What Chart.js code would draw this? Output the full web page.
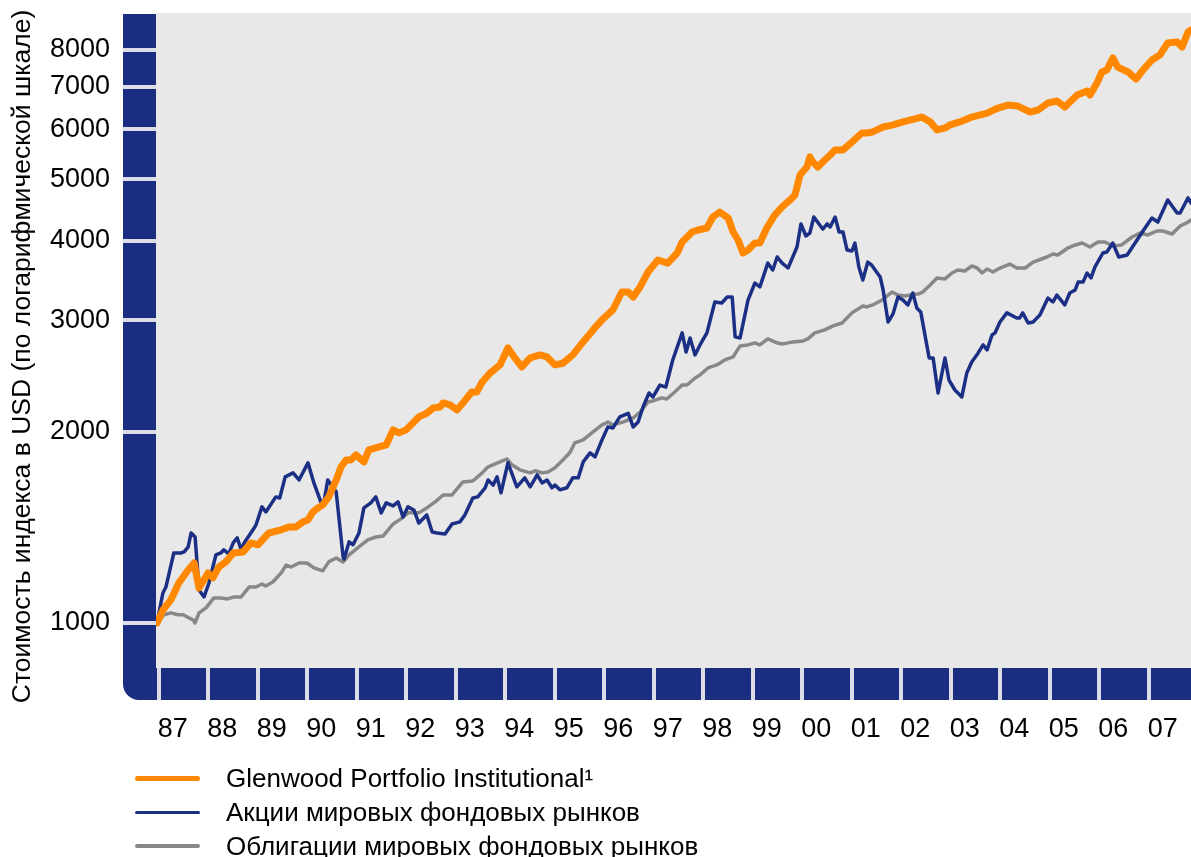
<!DOCTYPE html>
<html lang="ru">
<head>
<meta charset="utf-8">
<title>Glenwood Portfolio Institutional</title>
<script src="https://cdn.jsdelivr.net/npm/chart.js@4.4.1/dist/chart.umd.min.js"></script>
<style>
  html, body { margin: 0; padding: 0; background: #fff; }
  #wrap { position: relative; width: 1191px; height: 857px; overflow: hidden; font-family: "Liberation Sans", Arial, sans-serif; }
  #chart { position: absolute; left: 0; top: 0; }
  #legend { position: absolute; left: 135px; top: 761px; }
  .legend-row { display: flex; align-items: center; height: 34px; font-size: 26px; line-height: 30px; color: #000; white-space: nowrap; }
  .legend-line { width: 65px; margin-right: 26px; border-radius: 3px; }
</style>
</head>
<body>
<div id="wrap">
  <canvas id="chart" width="1191" height="857"></canvas>
  <div id="legend"></div>
</div>
<script>
// year labels under the axis
const firstYear = 1987;
const yearLabels = ['87', '88', '89', '90', '91', '92', '93', '94', '95', '96', '97',
                    '98', '99', '00', '01', '02', '03', '04', '05', '06', '07'];
const yTicks = [1000, 2000, 3000, 4000, 5000, 6000, 7000, 8000];

const seriesNames = ['Glenwood Portfolio Institutional\u00b9', 'Акции мировых фондовых рынков', 'Облигации мировых фондовых рынков'];
const seriesColors = ['#ff8800', '#1b2f85', '#888888'];

// Glenwood Portfolio Institutional
const glenwoodDates = [
  1987.00, 1987.12, 1987.28, 1987.44, 1987.63, 1987.75, 1987.85, 1987.95, 1988.03, 1988.13,
  1988.25, 1988.39, 1988.54, 1988.74, 1988.90, 1989.04, 1989.26, 1989.51, 1989.67, 1989.81,
  1989.95, 1990.05, 1990.15, 1990.25, 1990.35, 1990.47, 1990.62, 1990.72, 1990.82, 1990.92,
  1991.02, 1991.18, 1991.28, 1991.42, 1991.63, 1991.77, 1991.89, 1992.03, 1992.17, 1992.29,
  1992.45, 1992.58, 1992.72, 1992.78, 1992.92, 1993.06, 1993.18, 1993.36, 1993.46, 1993.57,
  1993.73, 1993.93, 1994.09, 1994.23, 1994.37, 1994.54, 1994.74, 1994.88, 1995.04, 1995.20,
  1995.40, 1995.61, 1995.81, 1995.99, 1996.21, 1996.39, 1996.52, 1996.62, 1996.76, 1996.92,
  1997.12, 1997.32, 1997.51, 1997.61, 1997.81, 1997.93, 1998.11, 1998.23, 1998.37, 1998.54,
  1998.64, 1998.74, 1998.84, 1998.94, 1999.08, 1999.18, 1999.32, 1999.48, 1999.63, 1999.79,
  1999.89, 1999.99, 2000.13, 2000.19, 2000.25, 2000.35, 2000.49, 2000.60, 2000.70, 2000.86,
  2001.04, 2001.24, 2001.34, 2001.46, 2001.67, 2001.87, 2002.07, 2002.21, 2002.45, 2002.62,
  2002.76, 2002.92, 2003.02, 2003.22, 2003.46, 2003.77, 2003.99, 2004.19, 2004.39, 2004.64,
  2004.80, 2005.00, 2005.18, 2005.34, 2005.59, 2005.79, 2005.85, 2005.99, 2006.09, 2006.19,
  2006.31, 2006.41, 2006.62, 2006.78, 2006.92, 2007.10, 2007.26, 2007.42, 2007.61, 2007.71,
  2007.83, 2007.89
];
const glenwoodValues = [
  1000, 1048, 1087, 1156, 1212, 1243, 1135, 1169, 1199, 1178,
  1225, 1248, 1289, 1294, 1337, 1328, 1386, 1402, 1417, 1417,
  1443, 1453, 1496, 1518, 1535, 1580, 1680, 1762, 1807, 1807,
  1840, 1794, 1874, 1888, 1908, 2015, 1993, 2015, 2066, 2112,
  2140, 2182, 2190, 2222, 2206, 2166, 2222, 2312, 2312, 2397,
  2477, 2551, 2713, 2616, 2532, 2616, 2645, 2626, 2551, 2566,
  2645, 2773, 2896, 3003, 3114, 3323, 3323, 3264, 3385, 3574,
  3733, 3691, 3829, 3985, 4132, 4162, 4193, 4363, 4443, 4347,
  4132, 4014, 3829, 3871, 3970, 3970, 4193, 4395, 4526, 4642,
  4727, 5082, 5232, 5426, 5326, 5232, 5366, 5465, 5565, 5565,
  5728, 5919, 5919, 5941, 6050, 6095, 6162, 6204, 6272, 6162,
  5984, 6028, 6095, 6162, 6272, 6363, 6480, 6550, 6527, 6387,
  6434, 6600, 6648, 6503, 6794, 6893, 6794, 7097, 7386, 7439,
  7771, 7519, 7386, 7200, 7439, 7714, 7856, 8205, 8235, 8088,
  8540, 8602
];

// Акции мировых фондовых рынков
const equityDates = [
  1987.00, 1987.12, 1987.18, 1987.34, 1987.48, 1987.55, 1987.63, 1987.69, 1987.77, 1987.85,
  1987.95, 1988.05, 1988.19, 1988.29, 1988.35, 1988.45, 1988.54, 1988.62, 1988.70, 1988.76,
  1988.94, 1989.00, 1989.12, 1989.20, 1989.40, 1989.48, 1989.59, 1989.75, 1989.87, 1990.05,
  1990.17, 1990.31, 1990.37, 1990.45, 1990.62, 1990.76, 1990.78, 1990.88, 1990.96, 1991.08,
  1991.18, 1991.32, 1991.42, 1991.53, 1991.63, 1991.77, 1991.87, 1991.97, 1992.07, 1992.19,
  1992.29, 1992.45, 1992.56, 1992.66, 1992.82, 1992.96, 1993.12, 1993.22, 1993.38, 1993.48,
  1993.63, 1993.69, 1993.79, 1993.87, 1993.95, 1994.09, 1994.27, 1994.43, 1994.54, 1994.68,
  1994.78, 1994.88, 1994.98, 1995.04, 1995.14, 1995.28, 1995.40, 1995.51, 1995.61, 1995.75,
  1995.85, 1995.99, 1996.11, 1996.21, 1996.35, 1996.52, 1996.62, 1996.72, 1996.82, 1996.94,
  1997.02, 1997.16, 1997.28, 1997.42, 1997.61, 1997.69, 1997.77, 1997.87, 1997.97, 1998.11,
  1998.27, 1998.41, 1998.52, 1998.62, 1998.68, 1998.78, 1998.94, 1999.08, 1999.18, 1999.34,
  1999.44, 1999.53, 1999.63, 1999.75, 1999.93, 2000.01, 2000.11, 2000.19, 2000.27, 2000.45,
  2000.54, 2000.60, 2000.70, 2000.78, 2000.86, 2000.94, 2001.04, 2001.10, 2001.18, 2001.26,
  2001.36, 2001.44, 2001.61, 2001.67, 2001.77, 2001.87, 2001.97, 2002.07, 2002.17, 2002.27,
  2002.35, 2002.43, 2002.60, 2002.68, 2002.78, 2002.92, 2003.00, 2003.12, 2003.26, 2003.36,
  2003.46, 2003.59, 2003.69, 2003.77, 2003.87, 2003.93, 2004.03, 2004.17, 2004.37, 2004.43,
  2004.49, 2004.60, 2004.70, 2004.84, 2005.00, 2005.10, 2005.18, 2005.34, 2005.44, 2005.55,
  2005.61, 2005.71, 2005.79, 2005.87, 2005.95, 2006.11, 2006.19, 2006.31, 2006.43, 2006.60,
  2006.80, 2006.92, 2007.10, 2007.22, 2007.42, 2007.61, 2007.67, 2007.83, 2007.89
];
const equityValues = [
  1000, 1115, 1139, 1289, 1289, 1294, 1318, 1386, 1366, 1127,
  1099, 1156, 1280, 1289, 1304, 1285, 1337, 1362, 1304, 1337,
  1402, 1427, 1524, 1496, 1580, 1574, 1699, 1724, 1680, 1788,
  1662, 1552, 1546, 1680, 1609, 1271, 1261, 1342, 1328, 1386,
  1518, 1546, 1580, 1491, 1546, 1529, 1552, 1469, 1524, 1507,
  1437, 1480, 1391, 1386, 1381, 1432, 1443, 1480, 1574, 1580,
  1633, 1680, 1649, 1699, 1603, 1788, 1639, 1693, 1639, 1711,
  1662, 1680, 1633, 1649, 1621, 1633, 1693, 1693, 1794, 1854,
  1827, 1943, 2037, 2029, 2112, 2140, 2037, 2073, 2190, 2304,
  2271, 2371, 2354, 2597, 2865, 2673, 2813, 2645, 2743, 2865,
  3205, 3194, 3264, 3264, 2824, 2813, 3228, 3434, 3385, 3691,
  3600, 3774, 3691, 3626, 3913, 4255, 4073, 4117, 4363, 4177,
  4255, 4208, 4363, 4132, 4132, 3871, 3857, 3970, 3640, 3472,
  3705, 3663, 3510, 3348, 2981, 3070, 3264, 3228, 3171, 3312,
  3137, 3092, 2616, 2616, 2304, 2616, 2415, 2329, 2271, 2477,
  2578, 2664, 2743, 2693, 2844, 2865, 2981, 3081, 3025, 3025,
  3081, 2970, 2981, 3059, 3252, 3205, 3287, 3171, 3312, 3348,
  3446, 3446, 3561, 3498, 3640, 3829, 3843, 3970, 3774, 3801,
  4014, 4147, 4347, 4284, 4642, 4427, 4427, 4676, 4590
];

// Облигации мировых фондовых рынков
const bondDates = [
  1987.00, 1987.14, 1987.28, 1987.42, 1987.53, 1987.65, 1987.73, 1987.77, 1987.85, 1987.99,
  1988.15, 1988.29, 1988.43, 1988.56, 1988.70, 1988.86, 1989.00, 1989.12, 1989.20, 1989.34,
  1989.51, 1989.61, 1989.71, 1989.87, 1990.03, 1990.17, 1990.35, 1990.47, 1990.62, 1990.76,
  1990.88, 1991.08, 1991.26, 1991.42, 1991.57, 1991.77, 1991.93, 1992.07, 1992.29, 1992.45,
  1992.62, 1992.78, 1992.96, 1993.18, 1993.38, 1993.57, 1993.69, 1993.93, 1994.07, 1994.17,
  1994.33, 1994.54, 1994.64, 1994.78, 1994.90, 1995.04, 1995.20, 1995.34, 1995.44, 1995.61,
  1995.81, 1995.99, 1996.11, 1996.21, 1996.41, 1996.62, 1996.76, 1996.92, 1997.02, 1997.20,
  1997.30, 1997.46, 1997.61, 1997.71, 1997.87, 1997.97, 1998.13, 1998.31, 1998.47, 1998.64,
  1998.78, 1998.94, 1999.08, 1999.18, 1999.34, 1999.53, 1999.65, 1999.85, 2000.05, 2000.15,
  2000.29, 2000.49, 2000.66, 2000.84, 2001.04, 2001.26, 2001.34, 2001.46, 2001.65, 2001.77,
  2001.85, 2001.97, 2002.11, 2002.21, 2002.37, 2002.47, 2002.62, 2002.76, 2002.92, 2003.06,
  2003.18, 2003.32, 2003.46, 2003.57, 2003.67, 2003.77, 2003.89, 2004.03, 2004.23, 2004.37,
  2004.54, 2004.70, 2004.98, 2005.10, 2005.20, 2005.40, 2005.55, 2005.69, 2005.85, 2006.01,
  2006.15, 2006.31, 2006.49, 2006.70, 2006.86, 2007.02, 2007.20, 2007.32, 2007.51, 2007.67,
  2007.83, 2007.89
];
const bondValues = [
  1000, 1030, 1037, 1030, 1030, 1018, 1011, 1000, 1037, 1056,
  1095, 1095, 1091, 1099, 1099, 1139, 1139, 1152, 1143, 1160,
  1199, 1234, 1225, 1243, 1243, 1221, 1208, 1248, 1266, 1248,
  1280, 1318, 1352, 1366, 1371, 1432, 1459, 1491, 1491, 1518,
  1552, 1591, 1591, 1668, 1674, 1724, 1762, 1794, 1813, 1775,
  1743, 1724, 1737, 1724, 1730, 1756, 1807, 1854, 1922, 1943,
  2000, 2052, 2073, 2052, 2073, 2104, 2150, 2230, 2238, 2263,
  2254, 2312, 2371, 2371, 2432, 2459, 2523, 2551, 2597, 2626,
  2733, 2743, 2763, 2743, 2803, 2763, 2753, 2773, 2783, 2803,
  2865, 2896, 2939, 2970, 3081, 3160, 3148, 3171, 3228, 3287,
  3323, 3287, 3276, 3287, 3299, 3323, 3409, 3498, 3485, 3561,
  3600, 3587, 3653, 3626, 3561, 3613, 3574, 3626, 3678, 3626,
  3626, 3705, 3774, 3815, 3801, 3899, 3942, 3970, 3913, 3985,
  3985, 3928, 3942, 4058, 4117, 4088, 4147, 4147, 4103, 4224,
  4284, 4316
];

const navy = '#1a2d80';
const gapColor = '#dcdde6';

function toPoints(dates, values) {
    return dates.map((d, i) => ({ x: d, y: values[i] }));
}

// gray plot field, navy frame with white notches on ticks and year boxes
const framePlugin = {
    id: 'frame',
    beforeDraw(chart) {
        const { ctx, chartArea: a, scales: { x, y } } = chart;
        const barW = 33, barH = 32, r = 16;
        const left = a.left - barW;
        const baseTop = a.bottom - barH;
        ctx.save();
        ctx.fillStyle = '#e8e8e8';
        ctx.fillRect(a.left, a.top, a.right - a.left, baseTop - a.top);

        ctx.fillStyle = navy;
        ctx.beginPath();
        ctx.moveTo(left, a.top + 1);
        ctx.lineTo(a.left, a.top + 1);
        ctx.lineTo(a.left, baseTop);
        ctx.lineTo(a.right, baseTop);
        ctx.lineTo(a.right, a.bottom);
        ctx.lineTo(left + r, a.bottom);
        ctx.arcTo(left, a.bottom, left, a.bottom - r, r);
        ctx.closePath();
        ctx.fill();

        ctx.fillStyle = gapColor;
        yTicks.forEach(v => {
            const py = Math.round(y.getPixelForValue(v));
            ctx.fillRect(left, py - 2, barW, 4);
        });
        for (let i = 0; i <= yearLabels.length; i++) {
            const px = Math.round(x.getPixelForValue(firstYear + i + 0.04));
            if (px > a.right) break;
            ctx.fillRect(px - 2, baseTop, 4, barH);
        }
        ctx.restore();
    }
};

const ctx = document.getElementById('chart').getContext('2d');
const chart = new Chart(ctx, {
    type: 'line',
    data: {
        datasets: [
            { label: seriesNames[0], data: toPoints(glenwoodDates, glenwoodValues), borderColor: seriesColors[0], borderWidth: 7 },
            { label: seriesNames[1], data: toPoints(equityDates, equityValues), borderColor: seriesColors[1], borderWidth: 3.5 },
            { label: seriesNames[2], data: toPoints(bondDates, bondValues), borderColor: seriesColors[2], borderWidth: 3.5 }
        ]
    },
    options: {
        responsive: false,
        animation: false,
        events: [],
        devicePixelRatio: 1,
        layout: { padding: { top: 13, right: 0, bottom: 0, left: 0 } },
        elements: {
            point: { radius: 0 },
            line: { tension: 0, borderJoinStyle: 'round', borderCapStyle: 'round', fill: false }
        },
        plugins: { legend: { display: false }, tooltip: { enabled: false } },
        scales: {
            x: {
                type: 'linear',
                min: 1986.98,
                max: 2007.89,
                grid: { display: false, drawTicks: false },
                border: { display: false },
                afterFit: scale => {
                    scale.height = 157;
                    scale.paddingLeft = 0;
                    scale.paddingRight = 0;
                },
                afterBuildTicks: scale => {
                    scale.ticks = yearLabels.map((_, i) => ({ value: firstYear + i + 0.32 }));
                },
                ticks: {
                    autoSkip: false,
                    maxRotation: 0,
                    padding: 13,
                    color: '#000',
                    font: { family: '"Liberation Sans", Arial, sans-serif', size: 27 },
                    callback: (value, index) => yearLabels[index]
                }
            },
            y: {
                type: 'logarithmic',
                min: 756,
                max: 9149,
                grid: { display: false, drawTicks: false },
                border: { display: false },
                afterFit: scale => {
                    scale.width = 156;
                    // keep the tick label padding from pushing the plot down
                    scale.paddingTop = 0;
                    scale.paddingBottom = 0;
                },
                afterBuildTicks: scale => {
                    scale.ticks = yTicks.map(v => ({ value: v }));
                },
                ticks: {
                    padding: 46,
                    color: '#000',
                    font: { family: '"Liberation Sans", Arial, sans-serif', size: 27 },
                    callback: value => String(value)
                },
                title: {
                    display: true,
                    text: 'Стоимость индекса в USD (по логарифмической шкале)',
                    color: '#000',
                    padding: { top: 7, bottom: 0 },
                    font: { family: '"Liberation Sans", Arial, sans-serif', size: 26.5 }
                }
            }
        }
    },
    plugins: [framePlugin]
});

// legend below the chart
const legendEl = document.getElementById('legend');
const legendHeights = [5, 3, 4];
chart.data.datasets.forEach((ds, i) => {
    const row = document.createElement('div');
    row.className = 'legend-row';
    row.innerHTML = `<span class="legend-line" style="height:${legendHeights[i]}px;background:${ds.borderColor}"></span><span>${ds.label}</span>`;
    legendEl.appendChild(row);
});
</script>
</body>
</html>
